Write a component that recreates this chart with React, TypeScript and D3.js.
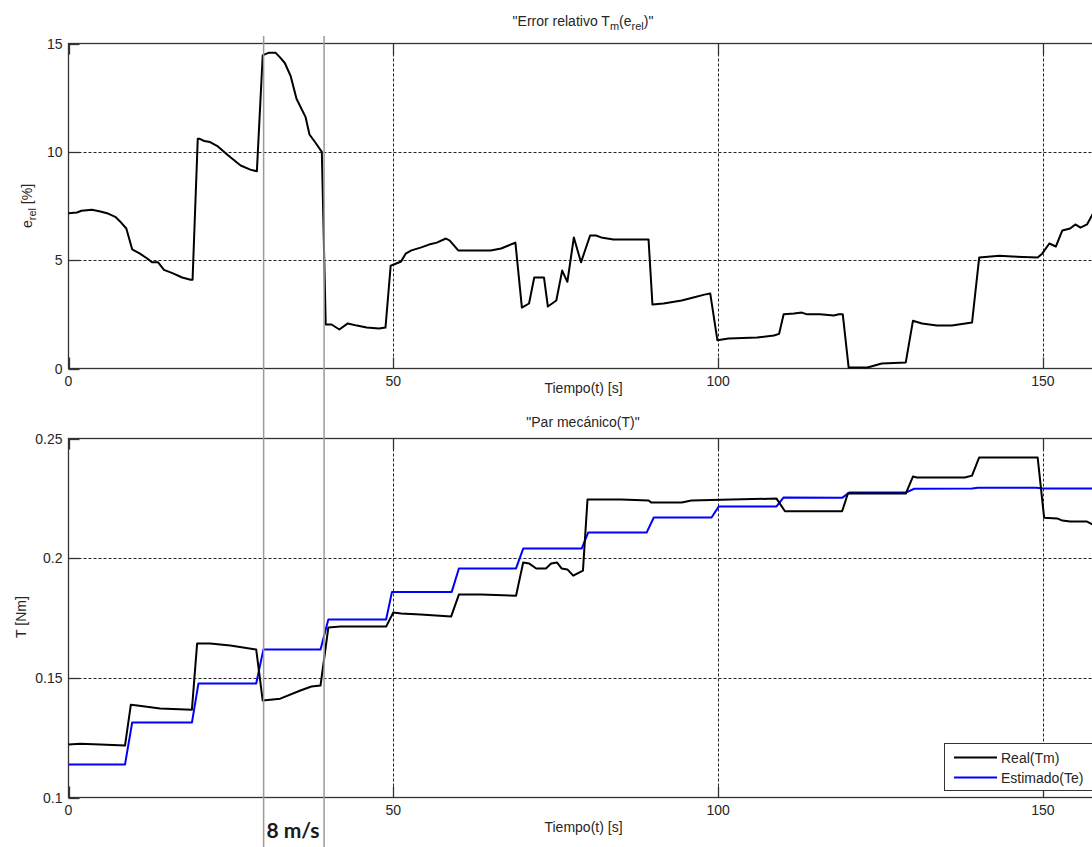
import React from "react";
import * as d3 from "d3";

// ---- Data ----
const errTime = [0, 1.3, 2, 3.6, 4.9, 6.1, 7.2, 7.9, 8.9, 9.8, 11, 12, 12.9, 13.8, 14.7, 16, 17.5, 18.8, 19.1, 19.9, 20.2, 20.9, 21.8, 23, 24.6, 26.5, 28, 29, 29.9, 30.2, 30.8, 31.9, 32.6, 33.3, 34.2, 35.1, 36.5, 37.1, 38, 39, 39.6, 40.5, 41.7, 43, 44.4, 45.9, 47.8, 48.8, 49.6, 50.1, 51.2, 51.9, 52.8, 54.2, 55.5, 56.7, 58.1, 58.7, 60, 65, 66.6, 68.8, 69.8, 70.9, 71.7, 73.2, 73.8, 75.1, 76, 76.8, 77.8, 78.9, 80.3, 81.2, 82, 83.9, 89.3, 89.9, 91.6, 94.4, 96.2, 97.9, 98.8, 99.9, 101.6, 106, 108.6, 109.4, 110.1, 111.7, 112.9, 113.7, 115.7, 117.8, 118.6, 119.2, 120.1, 123, 125.2, 128.9, 130, 131.4, 133.7, 136, 139.1, 140.2, 143.3, 145.3, 149.2, 149.9, 151, 152, 153, 154.2, 155, 155.8, 156.8, 158, 159];
const errValue = [7.17, 7.2, 7.28, 7.33, 7.25, 7.15, 7.0, 6.8, 6.46, 5.5, 5.3, 5.1, 4.9, 4.9, 4.55, 4.4, 4.2, 4.1, 4.1, 10.6, 10.6, 10.5, 10.45, 10.25, 9.83, 9.37, 9.18, 9.1, 14.45, 14.5, 14.57, 14.57, 14.35, 14.1, 13.5, 12.45, 11.6, 10.8, 10.43, 10.0, 2.03, 2.03, 1.8, 2.08, 1.98, 1.89, 1.85, 1.89, 4.75, 4.8, 4.94, 5.3, 5.45, 5.58, 5.72, 5.81, 6.0, 5.9, 5.45, 5.45, 5.54, 5.81, 2.81, 3.0, 4.2, 4.2, 2.86, 3.14, 4.52, 4.0, 6.05, 4.9, 6.14, 6.14, 6.05, 5.95, 5.95, 2.95, 3.0, 3.14, 3.28, 3.41, 3.46, 1.3, 1.38, 1.43, 1.52, 1.6, 2.5, 2.54, 2.58, 2.5, 2.5, 2.45, 2.5, 2.5, 0.05, 0.05, 0.23, 0.28, 2.2, 2.08, 1.98, 1.98, 2.12, 5.12, 5.2, 5.17, 5.12, 5.3, 5.77, 5.63, 6.37, 6.46, 6.65, 6.5, 6.65, 7.3, 7.8];

const realTime = [0, 1.8, 4.9, 8.7, 9.6, 10.6, 14.1, 19, 19.8, 21.8, 24.9, 28.9, 29.9, 32.6, 35.7, 37.4, 38.8, 40, 41.9, 48.9, 50, 51.2, 54.2, 58.9, 60.1, 63.5, 68.9, 70, 70.9, 72, 73.5, 74.3, 75.2, 75.9, 76.8, 77.7, 78.6, 79.2, 79.9, 85.1, 89.3, 89.7, 94.4, 95.9, 102, 109, 110.3, 119.1, 120, 123, 128.9, 130, 130.6, 138, 139.1, 140.2, 149.2, 150.2, 152.2, 153, 154.2, 156.8, 158, 159];
const realValue = [0.1221, 0.1225, 0.1221, 0.1217, 0.1388, 0.1384, 0.1372, 0.1367, 0.1643, 0.1643, 0.1635, 0.1618, 0.1405, 0.1413, 0.1447, 0.1464, 0.1468, 0.171, 0.1714, 0.1714, 0.1773, 0.1769, 0.1765, 0.1756, 0.1848, 0.1848, 0.1843, 0.1982, 0.1978, 0.1957, 0.1957, 0.1978, 0.1982, 0.1957, 0.1953, 0.1927, 0.194, 0.1948, 0.2245, 0.2245, 0.2241, 0.2233, 0.2233, 0.2241, 0.2245, 0.2249, 0.2196, 0.2196, 0.2271, 0.227, 0.227, 0.2341, 0.2337, 0.2337, 0.2345, 0.2421, 0.2421, 0.2169, 0.2166, 0.2157, 0.2153, 0.2153, 0.2136, 0.213];

const estTime = [0, 8.7, 9.8, 19, 20, 28.9, 30, 38.8, 40, 48.9, 49.8, 59, 60.1, 68.9, 70, 79, 80, 89, 90.1, 99, 100.1, 109, 110.1, 119.1, 120.2, 128.9, 130.2, 139.1, 140, 149, 150, 159];
const estValue = [0.1138, 0.1138, 0.1313, 0.1313, 0.1476, 0.1476, 0.1618, 0.1618, 0.1744, 0.1744, 0.1859, 0.1859, 0.1957, 0.1957, 0.204, 0.204, 0.2107, 0.2107, 0.217, 0.217, 0.2216, 0.2216, 0.2254, 0.2252, 0.2274, 0.2274, 0.229, 0.2291, 0.2294, 0.2294, 0.2291, 0.2291];

const xTicks = [0, 50, 100, 150];
const errTicks = [0, 5, 10, 15];
const torqueTicks = [0.1, 0.15, 0.2, 0.25];
const markerTimes = [30.04, 39.35];
const legendLabels = ["Real(Tm)", "Estimado(Te)"];
const seriesColors = ["#000000", "#0000ff"];

const W = 1092;
const H = 847;
const FONT = "'Liberation Sans', Arial, Helvetica, sans-serif";
const TXT = "#262626";

export default function App() {
  const x = d3.scaleLinear().domain([0, 158.8]).range([68.5, 1100]);
  const yTop = d3.scaleLinear().domain([0, 15]).range([368.5, 43.5]);
  const yBot = d3.scaleLinear().domain([0.1, 0.25]).range([797.5, 438.5]);

  const errLine = d3
    .line<number>()
    .x((_, i) => x(errTime[i]))
    .y((d) => yTop(d))(errValue) as string;
  const realLine = d3
    .line<number>()
    .x((_, i) => x(realTime[i]))
    .y((d) => yBot(d))(realValue) as string;
  const estLine = d3
    .line<number>()
    .x((_, i) => x(estTime[i]))
    .y((d) => yBot(d))(estValue) as string;

  const renderAxes = (
    y: d3.ScaleLinear<number, number>,
    yTicks: number[],
    fmt: (v: number) => string,
    key: string
  ) => {
    const [x0, x1] = x.range();
    const [yb, yt] = y.range();
    return (
      <g key={key}>
        {/* grid */}
        {xTicks
          .filter((t) => t > 0)
          .map((t) => (
            <line
              key={"gx" + t}
              x1={Math.round(x(t)) + 0.5}
              x2={Math.round(x(t)) + 0.5}
              y1={yt}
              y2={yb}
              stroke="#222"
              strokeWidth={1}
              strokeDasharray="3,2"
            />
          ))}
        {yTicks
          .filter((t, i) => i > 0 && i < yTicks.length - 1)
          .map((t) => (
            <line
              key={"gy" + t}
              x1={x0}
              x2={x1}
              y1={Math.round(y(t)) + 0.5}
              y2={Math.round(y(t)) + 0.5}
              stroke="#222"
              strokeWidth={1}
              strokeDasharray="3,2"
            />
          ))}
        {/* frame */}
        <rect x={x0} y={yt} width={x1 - x0} height={yb - yt} fill="none" stroke="#333" strokeWidth={1.3} />
        {/* ticks */}
        {xTicks.map((t) => (
          <g key={"tx" + t}>
            <line x1={Math.round(x(t)) + 0.5} x2={Math.round(x(t)) + 0.5} y1={yb} y2={yb - 11} stroke="#333" strokeWidth={1.3} />
            <line x1={Math.round(x(t)) + 0.5} x2={Math.round(x(t)) + 0.5} y1={yt} y2={yt + 11} stroke="#333" strokeWidth={1.3} />
            <text x={x(t)} y={yb + 17} textAnchor="middle" fontSize={14} fontFamily={FONT} fill={TXT}>
              {t}
            </text>
          </g>
        ))}
        {yTicks.map((t) => (
          <g key={"ty" + t}>
            <line x1={x0} x2={x0 + 11} y1={Math.round(y(t)) + 0.5} y2={Math.round(y(t)) + 0.5} stroke="#333" strokeWidth={1.3} />
            <text x={x0 - 6} y={y(t) + 5} textAnchor="end" fontSize={14} fontFamily={FONT} fill={TXT}>
              {fmt(t)}
            </text>
          </g>
        ))}
      </g>
    );
  };

  return (
    <svg
      width={W}
      height={H}
      style={{ position: "absolute", left: 0, top: 0, background: "#fff" }}
      xmlns="http://www.w3.org/2000/svg"
    >
      <rect x={0} y={0} width={W} height={H} fill="#fff" />

      {/* Top plot */}
      {renderAxes(yTop, errTicks, (v) => String(v), "top")}
      <path d={errLine} fill="none" stroke={seriesColors[0]} strokeWidth={2} strokeLinejoin="round" />
      <text x={583} y={25.5} textAnchor="middle" fontSize={14} fontFamily={FONT} fill={TXT}>
        {'"Error relativo T'}
        <tspan fontSize={11} dy={4}>m</tspan>
        <tspan dy={-4}>(e</tspan>
        <tspan fontSize={11} dy={4}>rel</tspan>
        <tspan dy={-4}>{')"'}</tspan>
      </text>
      <text x={583.5} y={393} textAnchor="middle" fontSize={14} fontFamily={FONT} fill={TXT}>
        Tiempo(t) [s]
      </text>
      <text transform="translate(32,206) rotate(-90)" textAnchor="middle" fontSize={14} fontFamily={FONT} fill={TXT}>
        e
        <tspan fontSize={11} dy={4}>rel</tspan>
        <tspan dy={-4}> [%]</tspan>
      </text>

      {/* Bottom plot */}
      {renderAxes(yBot, torqueTicks, (v) => String(v), "bot")}
      <path d={estLine} fill="none" stroke={seriesColors[1]} strokeWidth={2} strokeLinejoin="round" />
      <path d={realLine} fill="none" stroke={seriesColors[0]} strokeWidth={2} strokeLinejoin="round" />
      <text x={583} y={427} textAnchor="middle" fontSize={14} fontFamily={FONT} fill={TXT}>
        "Par mecánico(T)"
      </text>
      <text x={583.5} y={832} textAnchor="middle" fontSize={14} fontFamily={FONT} fill={TXT}>
        Tiempo(t) [s]
      </text>
      <text transform="translate(26,617) rotate(-90)" textAnchor="middle" fontSize={14} fontFamily={FONT} fill={TXT}>
        T [Nm]
      </text>

      {/* Legend */}
      <g>
        <rect x={944.5} y={743.5} width={170} height={47} fill="#fff" stroke="#333" strokeWidth={1} />
        {legendLabels.map((lab, i) => (
          <g key={lab}>
            <line x1={954} x2={997} y1={757.5 + i * 20} y2={757.5 + i * 20} stroke={seriesColors[i]} strokeWidth={2} />
            <text x={1001} y={762.5 + i * 20} fontSize={14} fontFamily={FONT} fill={TXT}>
              {lab}
            </text>
          </g>
        ))}
      </g>

      {/* Annotation lines */}
      {markerTimes.map((t) => (
        <line key={"m" + t} x1={x(t)} x2={x(t)} y1={36} y2={H} stroke="#9a9a9a" strokeWidth={1.5} />
      ))}
      <text x={293} y={838} textAnchor="middle" fontSize={21} fontWeight="bold" fontFamily="Lato, 'Open Sans', sans-serif" fill="#1a1a1a">
        8 m/s
      </text>
    </svg>
  );
}
